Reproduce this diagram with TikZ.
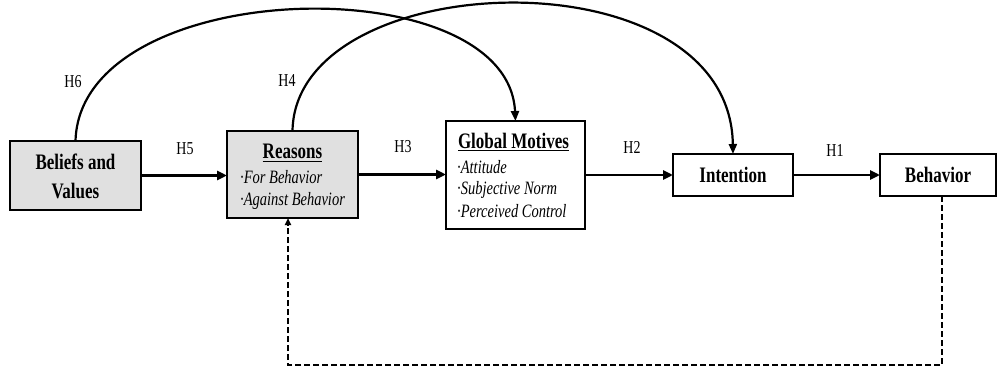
\documentclass[tikz,border=0pt]{standalone}
\usepackage{fontspec}
\usepackage{graphicx}
\setmainfont{Liberation Serif}
\usetikzlibrary{arrows.meta}
% slightly tall lettering
\newcommand{\talltxt}[1]{\scalebox{1}[1.3]{#1}}
\begin{document}
\begin{tikzpicture}[x=1pt,y=-1pt,
  box/.style={draw=black, line width=1.6pt, inner sep=0pt, outer sep=0pt},
  shaded/.style={box, fill=black!12},
  title/.style={font=\fontsize{17}{20}\selectfont\bfseries, inner sep=0pt},
  item/.style={font=\fontsize{14.5}{17}\selectfont\itshape, anchor=west, inner sep=0pt},
  hyp/.style={font=\fontsize{14}{16}\selectfont, inner sep=0pt},
  link/.style={line width=2.6pt, -{Triangle[length=10pt,width=9pt]}},
  arc/.style={line width=2.2pt, -{Triangle[length=10pt,width=8pt]}},
  feedback/.style={line width=1.8pt, dash pattern=on 6pt off 3pt, -{Triangle[length=7pt,width=6pt]}}
]
\useasboundingbox (0,0) rectangle (997,369);

% boxes
\node[shaded, minimum width=131pt, minimum height=69pt] (bel) at (75.5,175.5) {};
\node[shaded, minimum width=131pt, minimum height=87pt] (rea) at (292.5,174.5) {};
\node[box, minimum width=139pt, minimum height=108pt] (glo) at (515.5,175) {};
\node[box, minimum width=120pt, minimum height=42pt] (int) at (733,175) {};
\node[box, minimum width=116pt, minimum height=42pt] (beh) at (938,175) {};

% box texts
\node[title, align=center, font=\fontsize{17}{29}\selectfont\bfseries] (beltxt) at (75.5,176.5) {\talltxt{Beliefs and}\\\talltxt{Values}};
\node[title] (reatitle) at (292.5,153) {\talltxt{\underline{Reasons}}};
\node[item] (rea1) at (240,177) {\talltxt{·For Behavior}};
\node[item] (rea2) at (240,201) {\talltxt{·Against Behavior}};
\node[title] (glotitle) at (513.5,142) {\talltxt{\underline{Global Motives}}};
\node[item] (glo1) at (457,167) {\talltxt{·Attitude}};
\node[item] (glo2) at (457,190) {\talltxt{·Subjective Norm}};
\node[item] (glo3) at (457,211) {\talltxt{·Perceived Control}};
\node[title] (inttxt) at (int) {\talltxt{Intention}};
\node[title] (behtxt) at (beh) {\talltxt{Behavior}};

% hypothesis labels
\node[hyp] (h6) at (73,82) {\talltxt{H6}};
\node[hyp] (h4) at (287,81) {\talltxt{H4}};
\node[hyp] (h5) at (185,149) {\talltxt{H5}};
\node[hyp] (h3) at (403,147) {\talltxt{H3}};
\node[hyp] (h2) at (632,147) {\talltxt{H2}};
\node[hyp] (h1) at (835,150) {\talltxt{H1}};

% direct paths
\draw[link] (bel.east) -- (bel.east -| rea.west);
\draw[link] (rea.east) -- (rea.east -| glo.west);
\draw[link] (glo.east) -- (int.west);
\draw[link] (int.east) -- (beh.west);

% arched paths
\draw[arc] (bel.north) .. controls (80,-25) and (508,-35) .. (glo.north);
\draw[arc] (rea.north) .. controls (295,-35) and (730,-50) .. (int.north);

% feedback loop
\coordinate (fbr) at (942,365);
\coordinate (fbl) at (288,365);
\draw[feedback] (beh.south -| fbr) -- (fbr) -- (fbl) -- (fbl |- rea.south);
\end{tikzpicture}
\end{document}
